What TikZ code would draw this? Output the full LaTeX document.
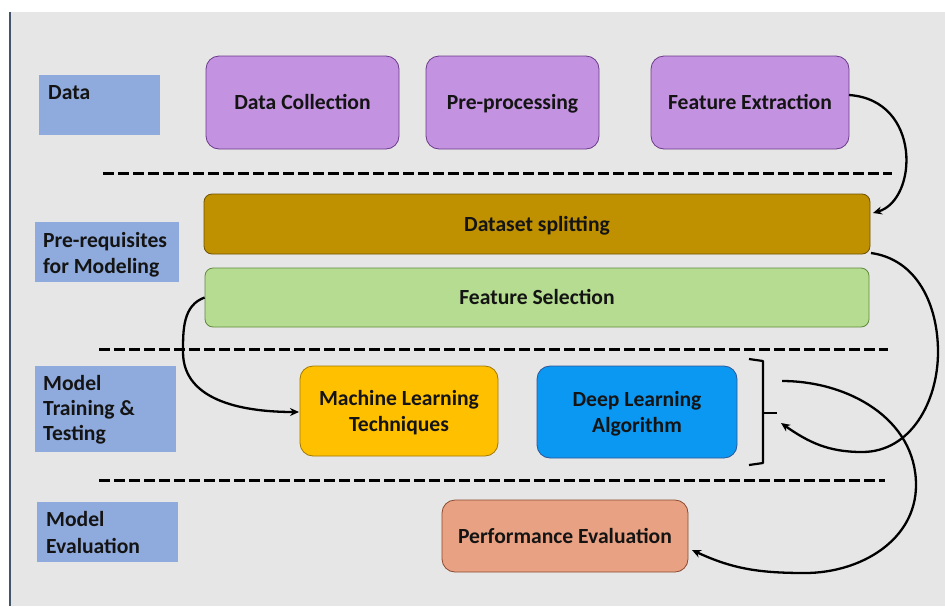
\documentclass[tikz,border=0pt]{standalone}
\usepackage{fontspec}
\setmainfont{Carlito}
\usetikzlibrary{arrows.meta,calc}

\definecolor{pagebg}{HTML}{E7E6E6}
\definecolor{frameline}{HTML}{44546A}
\definecolor{stageblue}{HTML}{8FAADC}
\definecolor{inkdark}{HTML}{141414}
\definecolor{purplefill}{HTML}{C392E0}
\definecolor{purpleedge}{HTML}{6B3A8A}
\definecolor{goldfill}{HTML}{BF9000}
\definecolor{goldedge}{HTML}{6E5200}
\definecolor{greenfill}{HTML}{B5DC90}
\definecolor{greenedge}{HTML}{5E8A3C}
\definecolor{amberfill}{HTML}{FFC000}
\definecolor{amberedge}{HTML}{A07800}
\definecolor{skyfill}{HTML}{0A98F2}
\definecolor{skyedge}{HTML}{2F5597}
\definecolor{salmonfill}{HTML}{E8A183}
\definecolor{salmonedge}{HTML}{8A4A30}

\begin{document}
\begin{tikzpicture}[x=1pt,y=-1pt,
  font=\bfseries\fontsize{21.6}{26}\selectfont,
  stage/.style={fill=stageblue, draw=none, inner sep=0pt},
  stagetext/.style={anchor=north west, align=left, inner sep=0pt, text=inkdark},
  block/.style={draw=#1, line width=0.8pt, inner sep=0pt, align=center,
    rounded corners=13pt, text=inkdark},
  bar/.style={draw=#1, line width=0.8pt, inner sep=0pt, align=center,
    rounded corners=8pt, text=inkdark},
  oneline/.style={text height=15pt, text depth=1pt},
  twoline/.style={text depth=0pt},
  separator/.style={line width=3pt, dash pattern=on 11pt off 4pt},
  flow/.style={line width=2.3pt, -{Stealth[length=9pt,width=8pt]}},
  brace/.style={line width=2.2pt, line join=round}]

\useasboundingbox (0,0) rectangle (945,606);
% page background and left frame rule
\fill[white] (0,0) rectangle (945,606);
\fill[pagebg] (10,12) rectangle (945,606);
\draw[frameline, line width=1.2pt] (10,12) -- (10,606);

% stage labels on the left
\node[stage, minimum width=121pt, minimum height=60pt] (sData) at (99.5,105) {};
\node[stagetext] (tData) at (48,85) {Data};

\node[stage, minimum width=144pt, minimum height=60pt] (sPre) at (107,252) {};
\node[stagetext, font=\bfseries\fontsize{21.6}{26}\selectfont] (tPre) at (43,232) {Pre-requisites\\for Modeling};

\node[stage, minimum width=141pt, minimum height=86pt] (sTrain) at (105.5,409) {};
\node[stagetext, font=\bfseries\fontsize{21.6}{25}\selectfont] (tTrain) at (43,375) {Model\\Training \&\\Testing};

\node[stage, minimum width=141pt, minimum height=60pt] (sEval) at (107.5,532) {};
\node[stagetext, font=\bfseries\fontsize{21.6}{27}\selectfont] (tEval) at (46,511) {Model\\Evaluation};

% stage separators
\coordinate (sepA1) at (103,173); \coordinate (sepA2) at (892,173);
\coordinate (sepB1) at (99,349);  \coordinate (sepB2) at (888,349);
\coordinate (sepC1) at (99,480);  \coordinate (sepC2) at (885,480);
\draw[separator] (sepA1) -- (sepA2);
\draw[separator] (sepB1) -- (sepB2);
\draw[separator] (sepC1) -- (sepC2);

% data stage
\node[block=purpleedge, fill=purplefill, oneline, minimum width=193pt, minimum height=93pt] (dc) at (302.5,102.5) {Data Collection};
\node[block=purpleedge, fill=purplefill, oneline, minimum width=173pt, minimum height=93pt] (pp) at (512.5,102.5) {Pre-processing};
\node[block=purpleedge, fill=purplefill, oneline, minimum width=198pt, minimum height=93pt] (fe) at (750,102.5) {Feature Extraction};

% pre-requisites
\node[bar=goldedge, fill=goldfill, oneline, minimum width=666pt, minimum height=60pt] (ds) at (537,224) {Dataset splitting};
\node[bar=greenedge, fill=greenfill, oneline, minimum width=664pt, minimum height=59pt] (fs) at (537,297.5) {Feature Selection};

% training & testing
\node[block=amberedge, fill=amberfill, twoline, minimum width=198pt, minimum height=90pt] (ml) at (399,411) {Machine Learning\\Techniques};
\node[block=skyedge, fill=skyfill, twoline, minimum width=200pt, minimum height=92pt] (dl) at (637,412) {Deep Learning\\Algorithm};

% evaluation
\node[block=salmonedge, fill=salmonfill, oneline, minimum width=246pt, minimum height=72pt] (pe) at (565,536) {Performance Evaluation};

% bracket grouping both model families
\coordinate (brTop) at (749,359);
\coordinate (brBot) at (749,465);
\coordinate (brMid) at (762,413);
\coordinate (brTip) at (777,413);
\draw[brace] (brTop) -- (763,361) -- (763,463) -- (brBot);
\draw[brace] (brMid) -- (brTip);

% connectors
\coordinate (feOut) at (849,95);
\coordinate (dsIn) at (873,213);
\draw[flow] (feOut) .. controls (922,100) and (918,200) .. (dsIn);

\coordinate (dsOut) at (871,253);
\coordinate (loopR) at (938,352);
\coordinate (loopB) at (862,452);
\coordinate (brIn) at (781,423);
\draw[flow] (dsOut) to[out=-8,in=90] (loopR) to[out=-90,in=0] (loopB) to[out=180,in=-35] (brIn);

\coordinate (fsLoop) at (183,352);
\coordinate (mlIn) at (299,412);
\draw[flow] (fs.west) to[out=200,in=90] (fsLoop) to[out=-90,in=180] (mlIn);

\coordinate (brOut) at (782,381);
\coordinate (evalR) at (916,485);
\coordinate (evalB) at (805,573);
\coordinate (peIn) at (692,550);
\draw[flow] (brOut) to[out=0,in=90] (evalR) to[out=-90,in=0] (evalB) to[out=180,in=-25] (peIn);

\end{tikzpicture}
\end{document}
